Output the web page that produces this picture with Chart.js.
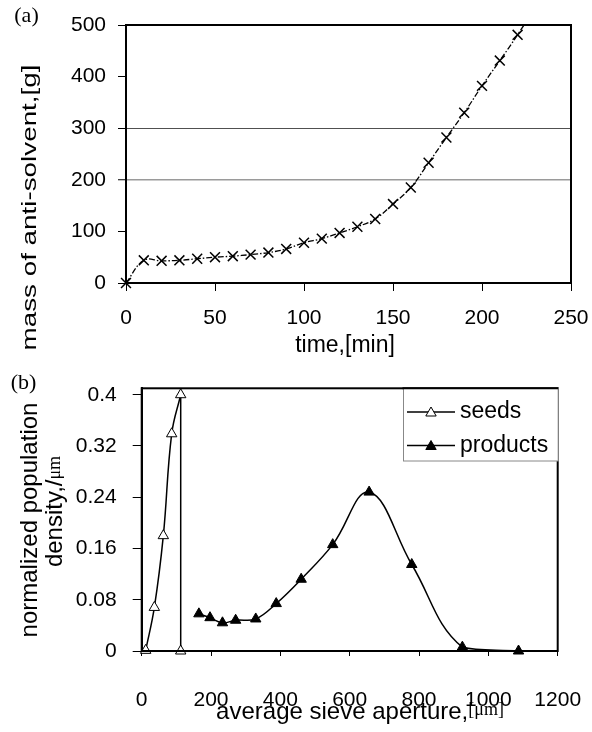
<!DOCTYPE html>
<html>
<head>
<meta charset="utf-8">
<script src="https://cdn.jsdelivr.net/npm/chart.js@4.4.1/dist/chart.umd.min.js"></script>
<style>
  html, body { margin: 0; padding: 0; background: #fff; }
  canvas { display: block; }
</style>
</head>
<body>
<canvas id="chartA" width="592" height="365"></canvas>
<canvas id="chartB" width="592" height="367"></canvas>
<script>
// (a) anti-solvent added over time (last point only carries the line past the top edge)
const timeMin = [0, 10, 20, 30, 40, 50, 60, 70, 80, 90, 100, 110, 120, 130, 140, 150, 160, 170, 180, 190, 200, 210, 220, 230];
const massG = [0, 44, 43, 44, 47, 50, 52, 55, 59, 66, 78, 86, 97, 109, 124, 153, 185, 233, 282, 330, 382, 431, 481, 535];
const timeTicks = [0, 50, 100, 150, 200, 250];
const massTicks = [0, 100, 200, 300, 400, 500];

// (b) normalized population density vs sieve aperture
const seriesNames = ['seeds', 'products'];
const seedsX = [11.5, 36.5, 62.4, 86.5, 112.5, 112.5];
const seedsY = [0.001, 0.068, 0.18, 0.339, 0.4, 0];
const productsX = [165, 197, 233, 271, 329, 388, 460, 551, 656, 779, 925, 1087];
const productsY = [0.058, 0.052, 0.044, 0.048, 0.050, 0.074, 0.112, 0.166, 0.248, 0.135, 0.006, 0];
const apertureTicks = [0, 200, 400, 600, 800, 1000, 1200];
const densityTicks = [0, 0.08, 0.16, 0.24, 0.32, 0.4];
const densityLabels = ['0', '0.08', '0.16', '0.24', '0.32', '0.4'];

const SANS = "'Liberation Sans', Arial, sans-serif";
const NARROW = "'Liberation Sans Narrow', 'Arial Narrow', 'Liberation Sans', sans-serif";
const SERIF = "'Liberation Serif', 'Times New Roman', serif";

Chart.defaults.color = '#000';
Chart.defaults.font.family = SANS;

// keep the plot area exactly where the layout padding puts it
function fixSize(prop, size) {
  return s => {
    s[prop] = size;
    s.paddingLeft = s.paddingRight = s.paddingTop = s.paddingBottom = 0;
  };
}

// black box round the plot area
const framePlugin = {
  id: 'frame',
  afterDatasetsDraw(chart) {
    const { ctx, chartArea: a } = chart;
    ctx.save();
    ctx.strokeStyle = '#000';
    ctx.lineWidth = 2;
    ctx.strokeRect(a.left, a.top, a.right - a.left, a.bottom - a.top);
    ctx.restore();
  }
};

// free text (titles, panel letters), with mixed fonts and optional stretch
function textPlugin(items) {
  return {
    id: 'texts',
    afterDraw(chart) {
      const ctx = chart.ctx;
      items.forEach(item => {
        ctx.save();
        ctx.translate(item.x, item.y);
        if (item.rotate) ctx.rotate(item.rotate);
        ctx.fillStyle = '#000';
        ctx.textBaseline = 'alphabetic';
        ctx.textAlign = 'left';
        const widths = item.parts.map(p => { ctx.font = p.font; return ctx.measureText(p.text).width; });
        const total = widths.reduce((s, w) => s + w, 0);
        if (item.length) ctx.scale(item.length / total, 1);
        let x = -total / 2;
        item.parts.forEach((p, i) => {
          ctx.font = p.font;
          ctx.fillText(p.text, x, p.dy || 0);
          x += widths[i];
        });
        ctx.restore();
      });
    }
  };
}

function triangle(ctx, x, y, r, fill) {
  ctx.beginPath();
  ctx.moveTo(x, y - r);
  ctx.lineTo(x + 0.866 * r, y + 0.5 * r);
  ctx.lineTo(x - 0.866 * r, y + 0.5 * r);
  ctx.closePath();
  ctx.fillStyle = fill;
  ctx.fill();
  ctx.strokeStyle = '#000';
  ctx.lineWidth = 1;
  ctx.stroke();
}

// boxed legend with line + marker samples
const boxLegend = {
  id: 'boxLegend',
  afterDatasetsDraw(chart) {
    const ctx = chart.ctx;
    const a = chart.chartArea;
    const left = 403.5, right = a.right + 0.5, top = a.top, bottom = 96;
    ctx.save();
    ctx.fillStyle = '#fff';
    ctx.fillRect(left, top, right - left, bottom - top);
    ctx.strokeStyle = '#888';
    ctx.lineWidth = 1;
    ctx.strokeRect(left, top, right - left, bottom - top);
    ctx.strokeStyle = '#000';
    ctx.lineWidth = 2;
    ctx.beginPath();
    ctx.moveTo(left - 1, top);
    ctx.lineTo(right, top);
    ctx.stroke();
    seriesNames.forEach((name, i) => {
      const y = 47 + i * 33.5;
      ctx.strokeStyle = '#000';
      ctx.lineWidth = 1.5;
      ctx.beginPath();
      ctx.moveTo(407, y);
      ctx.lineTo(455, y);
      ctx.stroke();
      triangle(ctx, 431, y + 1, 6, i === 0 ? '#fff' : '#000');
      ctx.fillStyle = '#000';
      ctx.font = '23px ' + SANS;
      ctx.textBaseline = 'middle';
      ctx.fillText(name, 460, y);
    });
    ctx.restore();
  }
};

const gridStyle = { 200: '#9a9a9a', 300: '#505050' };

new Chart(document.getElementById('chartA'), {
  type: 'line',
  data: {
    datasets: [{
      label: 'mass of anti-solvent',
      data: timeMin.map((t, i) => ({ x: t, y: massG[i] })),
      borderColor: '#000',
      borderWidth: 1.3,
      borderDash: [6, 2, 1.5, 2],
      tension: 0.4,
      pointStyle: 'crossRot',
      pointRadius: ctx => ctx.dataIndex < timeMin.length - 1 ? 7 : 0,
      pointBorderColor: '#000',
      pointBorderWidth: 1.5,
      clip: { left: 10, bottom: 10, top: 0, right: 0 }
    }]
  },
  options: {
    responsive: false,
    animation: false,
    layout: { padding: { left: 0, top: 25, right: 21, bottom: 0 } },
    plugins: { legend: { display: false }, tooltip: { enabled: false } },
    scales: {
      x: {
        type: 'linear', min: 0, max: 250,
        afterBuildTicks: s => { s.ticks = timeTicks.map(v => ({ value: v })); },
        afterFit: fixSize('height', 82),
        grid: { drawOnChartArea: false, tickLength: 8, tickColor: '#000', tickWidth: 1 },
        border: { color: '#000', width: 2 },
        ticks: { font: { size: 21, family: SANS }, color: '#000', padding: 15, maxRotation: 0, callback: v => String(v) }
      },
      y: {
        min: 0, max: 500,
        afterBuildTicks: s => { s.ticks = massTicks.map(v => ({ value: v })); },
        afterFit: fixSize('width', 126),
        grid: {
          color: ctx => gridStyle[ctx.tick && ctx.tick.value] || 'rgba(0,0,0,0)',
          lineWidth: ctx => ctx.tick && ctx.tick.value === 200 ? 1.5 : 1,
          tickColor: '#000', tickLength: 8, tickWidth: 1
        },
        border: { color: '#000', width: 2 },
        ticks: { font: { size: 21, family: SANS }, color: '#000', padding: 12 }
      }
    }
  },
  plugins: [framePlugin, textPlugin([
    { x: 26.5, y: 22, parts: [{ text: '(a)', font: '22px ' + SERIF }] },
    { x: 35.5, y: 207.5, rotate: -Math.PI / 2, length: 286,
      parts: [{ text: 'mass of anti-solvent,[g]', font: '21px ' + SANS }] },
    { x: 345, y: 352, parts: [{ text: 'time,[min]', font: '23px ' + SANS }] }
  ])]
});

const seedsCurve = seedsX.slice(0, 5).map((x, i) => ({ x, y: seedsY[i] }));
const seedsEdge = seedsX.slice(4).map((x, i) => ({ x, y: seedsY[i + 4] }));

new Chart(document.getElementById('chartB'), {
  type: 'line',
  data: {
    datasets: [{
      label: seriesNames[0],
      data: seedsCurve,
      borderColor: '#000', borderWidth: 1.5, tension: 0.4,
      pointStyle: 'triangle', pointRadius: 6,
      pointBackgroundColor: '#fff', pointBorderColor: '#000', pointBorderWidth: 1,
      clip: false
    }, {
      label: seriesNames[0],
      data: seedsEdge,
      borderColor: '#000', borderWidth: 1.5, tension: 0,
      pointStyle: 'triangle', pointRadius: ctx => ctx.dataIndex === 0 ? 0 : 6,
      pointBackgroundColor: '#fff', pointBorderColor: '#000', pointBorderWidth: 1,
      clip: false
    }, {
      label: seriesNames[1],
      data: productsX.map((x, i) => ({ x, y: productsY[i] })),
      borderColor: '#000', borderWidth: 1.5, tension: 0.4,
      pointStyle: 'triangle', pointRadius: 6,
      pointBackgroundColor: '#000', pointBorderColor: '#000', pointBorderWidth: 1,
      clip: false
    }]
  },
  options: {
    responsive: false,
    animation: false,
    layout: { padding: { left: 0, top: 23.3, right: 34.3, bottom: 0 } },
    plugins: { legend: { display: false }, tooltip: { enabled: false } },
    scales: {
      x: {
        type: 'linear', min: 0, max: 1200,
        afterBuildTicks: s => { s.ticks = apertureTicks.map(v => ({ value: v })); },
        afterFit: fixSize('height', 81),
        grid: { drawOnChartArea: false, tickLength: 5, tickColor: '#000', tickWidth: 1 },
        border: { color: '#000', width: 2 },
        ticks: { font: { size: 21, family: NARROW }, color: '#000', padding: 32, maxRotation: 0, callback: v => String(v) }
      },
      y: {
        min: 0, max: 0.41,
        afterBuildTicks: s => { s.ticks = densityTicks.map(v => ({ value: v })); },
        afterFit: fixSize('width', 141.7),
        grid: { drawOnChartArea: false, tickLength: 9, tickColor: '#000', tickWidth: 1 },
        border: { color: '#000', width: 2 },
        ticks: {
          font: { size: 21, family: SANS }, color: '#000', padding: 16,
          callback: (v, i) => densityLabels[i]
        }
      }
    }
  },
  plugins: [framePlugin, boxLegend, textPlugin([
    { x: 23.5, y: 24, parts: [{ text: '(b)', font: '22px ' + SERIF }] },
    { x: 36.7, y: 155, rotate: -Math.PI / 2,
      parts: [{ text: 'normalized population', font: '24px ' + SANS }] },
    { x: 61.7, y: 146.5, rotate: -Math.PI / 2,
      parts: [{ text: 'density,/', font: '24px ' + SANS }, { text: 'μm', font: '18px ' + SERIF, dy: -2 }] },
    { x: 360, y: 354,
      parts: [{ text: 'average sieve aperture,', font: '24px ' + SANS }, { text: '[μm]', font: '18px ' + SERIF, dy: -4 }] }
  ])]
});
</script>
</body>
</html>
